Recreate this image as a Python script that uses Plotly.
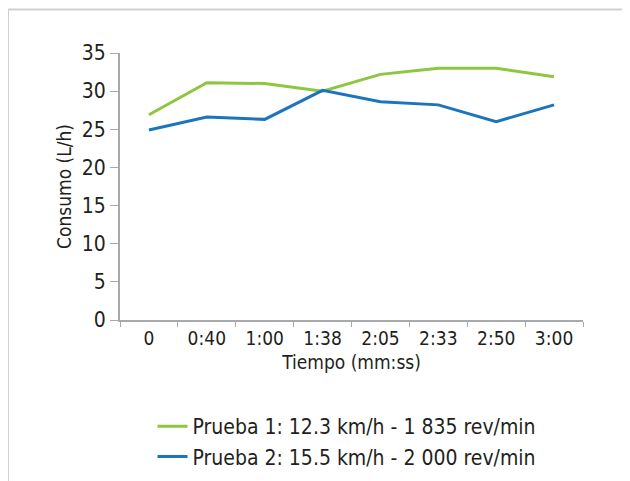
import plotly.graph_objects as go

categories = ["0", "0:40", "1:00", "1:38", "2:05", "2:33", "2:50", "3:00"]
prueba1 = [26.9, 31.1, 31.0, 30.0, 32.2, 33.0, 33.0, 31.9]
prueba2 = [24.9, 26.6, 26.3, 30.1, 28.6, 28.2, 26.0, 28.2]
series_names = ["Prueba 1: 12.3 km/h - 1 835 rev/min",
                "Prueba 2: 15.5 km/h - 2 000 rev/min"]
y_ticks = [0, 5, 10, 15, 20, 25, 30, 35]

FONT = "Liberation Sans Narrow, DejaVu Sans Condensed, Arial Narrow, sans-serif"
TXT = "#231F20"

fig = go.Figure()
fig.add_trace(go.Scatter(x=categories, y=prueba1, mode="lines", name=series_names[0],
                         line=dict(color="#8DC63F", width=3)))
fig.add_trace(go.Scatter(x=categories, y=prueba2, mode="lines", name=series_names[1],
                         line=dict(color="#1C75BC", width=3)))

# the page has an 8px body margin, so the figure is drawn offset by (8, 8)
OFF = 8
W, H = 630, 481
L, R, T, B = 120 - OFF, W - (583 - OFF), 53 - OFF, H - (320 - OFF)
pw, ph = W - L - R, H - T - B

def px(x):
    return (x - OFF - L) / pw

def py(y):
    return (H - B - (y - OFF)) / ph

# frame lines (top and left)
fig.add_shape(type="line", xref="paper", yref="paper", x0=px(8), x1=px(700), y0=py(9.5), y1=py(9.5),
              line=dict(color="#D0D0D0", width=2))
fig.add_shape(type="line", xref="paper", yref="paper", x0=px(8), x1=px(8), y0=py(9.5), y1=py(600),
              line=dict(color="#D0D0D0", width=2))

fig.update_layout(
    width=W, height=H,
    margin=dict(l=L, r=R, t=T, b=B, pad=0, autoexpand=False),
    paper_bgcolor="white", plot_bgcolor="white",
    font=dict(family=FONT, color=TXT, size=20),
    showlegend=True,
    legend=dict(x=px(347), xanchor="center", y=py(406), yanchor="top",
                font=dict(size=21, color=TXT), tracegroupgap=0, itemwidth=30,
                bgcolor="rgba(0,0,0,0)"),
    xaxis=dict(type="category", showgrid=False, zeroline=False, automargin=False,
               showline=True, linecolor="#A7A9AC", linewidth=2,
               ticks="outside", tickson="boundaries", ticklen=5, tickcolor="#A7A9AC", tickwidth=1,
               tickfont=dict(size=19, color=TXT),
               title=dict(text="Tiempo (mm:ss)", font=dict(size=19, color=TXT), standoff=8),
               range=[-0.5, 7.5]),
    yaxis=dict(range=[0, 35], tickvals=y_ticks, showgrid=False, zeroline=False, automargin=False,
               showline=True, linecolor="#A7A9AC", linewidth=2,
               ticks="outside", ticklen=8, tickcolor="#A7A9AC", tickwidth=1,
               tickfont=dict(size=21, color=TXT),
               title=dict(text="Consumo (L/h)", font=dict(size=19, color=TXT), standoff=5)),
)

fig.write_html("out.html")
